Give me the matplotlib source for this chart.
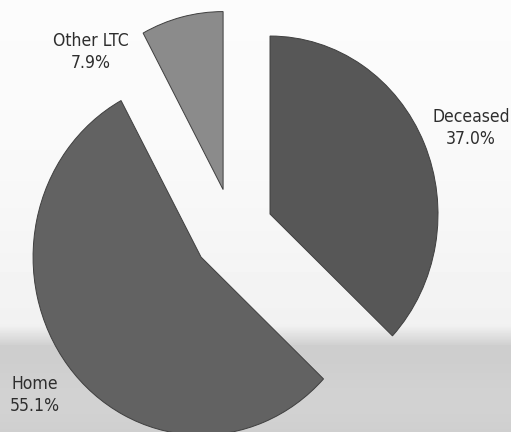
import numpy as np
import matplotlib
matplotlib.use("Agg")
import matplotlib.pyplot as plt

# Discharge destination shares (%)
categories = ["Deceased", "Home", "Other LTC"]
shares = [37.0, 55.1, 7.9]
colors = ["#575757", "#626262", "#8b8b8b"]

W, H = 511, 432
fig = plt.figure(figsize=(W / 100, H / 100), dpi=100)

# Backdrop: pale top with a grey band along the bottom
bg = fig.add_axes([0, 0, 1, 1], zorder=0)
ys = np.arange(H, dtype=float)
rows = 0.985 - 0.04 * (ys / 325) ** 2
band = (ys >= 325) & (ys < 345)
rows[band] = 0.945 - (ys[band] - 325) / 20 * 0.13
rows[ys >= 345] = 0.815 + 0.008 * np.sin(ys[ys >= 345] / 15.0)
img = np.repeat(rows[:, None], W, axis=1)
bg.imshow(img, cmap="gray", vmin=0, vmax=1, aspect="auto", extent=(0, W, H, 0),
          interpolation="bilinear")
bg.set_axis_off()

ax = fig.add_axes([0, 0, 1, 1], zorder=1)
ax.patch.set_alpha(0)
wedges, _ = ax.pie(
    shares,
    colors=colors,
    startangle=90,
    counterclock=False,
    explode=[0.24, 0.24, 0.24],
    radius=1.0,
    wedgeprops=dict(edgecolor="#3f3f3f", linewidth=0.7),
)
# Pie centre at (233, 231) px; 168 px per unit across, 178 px per unit down
cx, cy, sx, sy = 233, 231, 168, 178
ax.set_aspect("auto")
ax.set_xlim(-cx / sx, (W - cx) / sx)
ax.set_ylim(-(H - cy) / sy, cy / sy)
ax.set_axis_off()

label_pos = {"Deceased": (471, 128), "Home": (35, 395), "Other LTC": (91, 52)}
for name, val in zip(categories, shares):
    px, py = label_pos[name]
    fig.text(px / W, 1 - py / H, f"{name}\n{val:.1f}%", ha="center", va="center",
             fontsize=12.6, family="DejaVu Sans", stretch="condensed",
             color="#2e2e2e", linespacing=1.35, zorder=3)

fig.savefig("out.png", dpi=100)
